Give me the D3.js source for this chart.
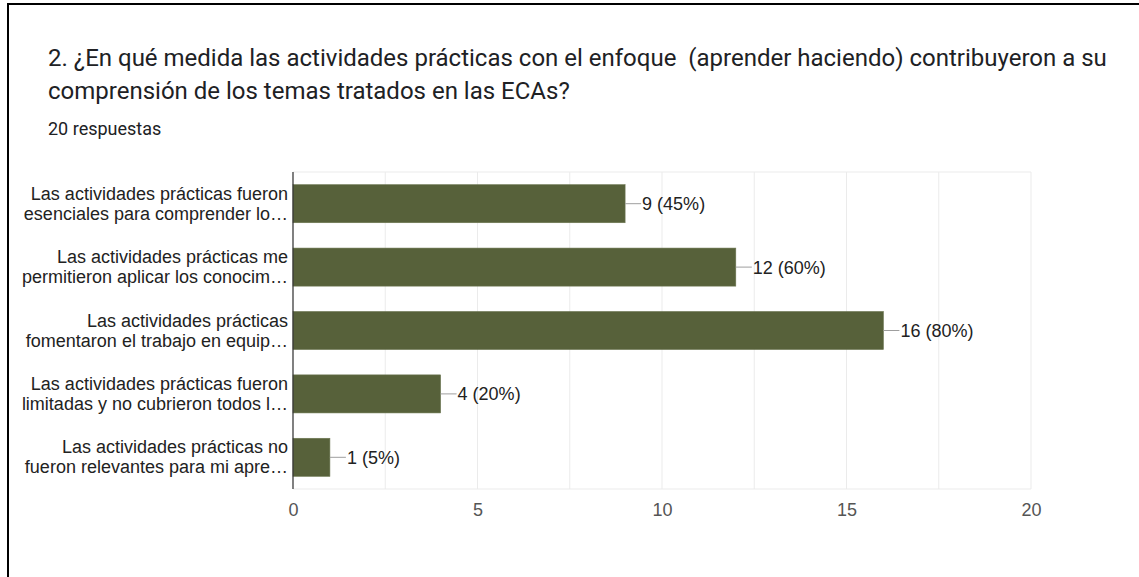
<!DOCTYPE html>
<html><head><meta charset="utf-8">
<script src="https://cdn.jsdelivr.net/npm/d3@7"></script>
<style>
html,body{margin:0;padding:0;background:#fff;}
svg{display:block;}
</style>
</head><body>
<svg id="chart" width="1139" height="577"></svg>
<script>
const titleLines = [
  "2. ¿En qué medida las actividades prácticas con el enfoque  (aprender haciendo) contribuyeron a su",
  "comprensión de los temas tratados en las ECAs?"
];
const subtitle = "20 respuestas";
const categories = [
  ["Las actividades prácticas fueron", "esenciales para comprender lo…"],
  ["Las actividades prácticas me", "permitieron aplicar los conocim…"],
  ["Las actividades prácticas", "fomentaron el trabajo en equip…"],
  ["Las actividades prácticas fueron", "limitadas y no cubrieron todos l…"],
  ["Las actividades prácticas no", "fueron relevantes para mi apre…"]
];
const counts = [9, 12, 16, 4, 1];
const percents = [45, 60, 80, 20, 5];
const xTicks = [0, 5, 10, 15, 20];
const gridTicks = [0, 2.5, 5, 7.5, 10, 12.5, 15, 17.5, 20];

(function () {
const svg = d3.select("#chart");

// frame
svg.append("line").attr("x1", 8).attr("x2", 1139).attr("y1", 4).attr("y2", 4)
  .attr("stroke", "#000").attr("stroke-width", 2);
svg.append("line").attr("x1", 8).attr("x2", 8).attr("y1", 3).attr("y2", 577)
  .attr("stroke", "#000").attr("stroke-width", 2);

// title
const tt = svg.append("text").attr("font-family", "Roboto, sans-serif")
  .attr("font-size", 24).attr("fill", "#202124").style("white-space", "pre");
titleLines.forEach((l, i) => {
  tt.append("tspan").attr("x", 48).attr("y", 66 + i * 33).style("white-space", "pre").text(l);
});
svg.append("text").attr("x", 48).attr("y", 135)
  .attr("font-family", "Roboto, sans-serif").attr("font-size", 18)
  .attr("fill", "#202124").text(subtitle);

const pL = 293, pR = 1031, pT = 172, pB = 489;
const x = d3.scaleLinear().domain([0, 20]).range([pL, pR]);
const y = d3.scaleBand().domain(d3.range(categories.length)).range([pT, pB])
  .paddingInner(0.4).paddingOuter(0.2);

// grid
svg.append("g").selectAll("line").data(gridTicks).join("line")
  .attr("x1", d => x(d)).attr("x2", d => x(d))
  .attr("y1", pT).attr("y2", pB)
  .attr("stroke", "#ebebeb").attr("stroke-width", 1);
svg.append("line").attr("x1", pL).attr("x2", pR).attr("y1", pT).attr("y2", pT)
  .attr("stroke", "#ebebeb");
svg.append("line").attr("x1", pL).attr("x2", pR).attr("y1", pB).attr("y2", pB)
  .attr("stroke", "#ebebeb");

// bars
svg.append("g").selectAll("rect").data(counts).join("rect")
  .attr("x", x(0)).attr("y", (d, i) => y(i))
  .attr("width", d => x(d) - x(0)).attr("height", y.bandwidth())
  .attr("fill", "#57613a").attr("stroke", "#6b7550").attr("stroke-width", 0.6);

// leader lines + value labels
const vl = svg.append("g");
counts.forEach((d, i) => {
  const cy = y(i) + y.bandwidth() / 2;
  vl.append("line").attr("x1", x(d)).attr("x2", x(d) + 16)
    .attr("y1", cy).attr("y2", cy).attr("stroke", "#9e9e9e").attr("stroke-width", 1);
  vl.append("text").attr("x", x(d) + 17).attr("y", cy).attr("dy", "0.36em")
    .attr("font-family", "Liberation Sans, Arial, sans-serif").attr("font-size", 18)
    .attr("fill", "#222").text(`${d} (${percents[i]}%)`);
});

// y axis line
svg.append("line").attr("x1", pL).attr("x2", pL).attr("y1", pT).attr("y2", pB)
  .attr("stroke", "#333").attr("stroke-width", 1.2);

// category labels
const cl = svg.append("g").attr("font-family", "Liberation Sans, Arial, sans-serif")
  .attr("font-size", 18).attr("fill", "#222").attr("text-anchor", "end");
categories.forEach((lines, i) => {
  const cy = y(i) + y.bandwidth() / 2;
  lines.forEach((l, j) => {
    cl.append("text").attr("x", 288).attr("y", cy - 4 + j * 20).text(l);
  });
});

// x axis tick labels
const xAxis = d3.axisBottom(x).tickValues(xTicks).tickSize(0).tickPadding(0).tickFormat(d3.format("d"));
const ax = svg.append("g").attr("transform", `translate(0,${pB})`).call(xAxis);
ax.select(".domain").remove();
ax.selectAll("text").attr("font-family", "Liberation Sans, Arial, sans-serif")
  .attr("font-size", 18).attr("fill", "#555").attr("y", 27).attr("dy", 0);
})();
</script>
</body></html>
